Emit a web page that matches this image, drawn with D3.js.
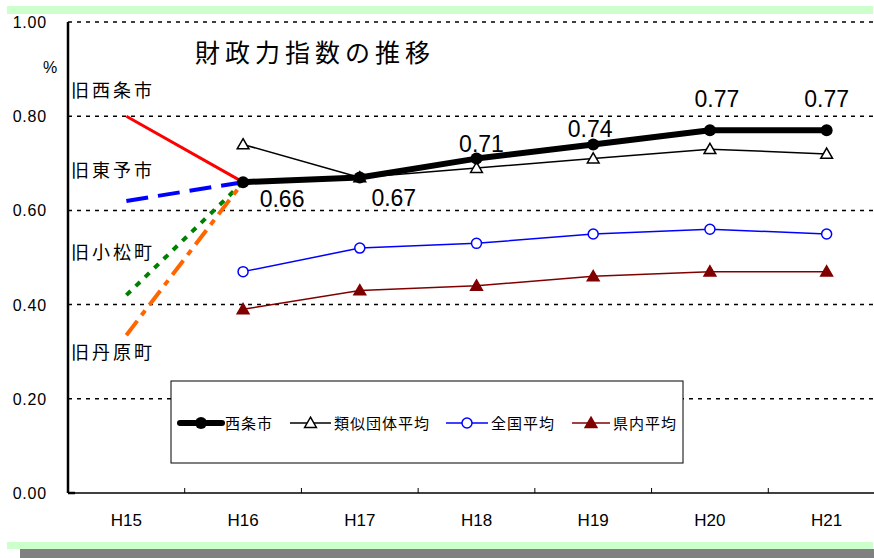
<!DOCTYPE html>
<html>
<head>
<meta charset="utf-8">
<script src="https://cdn.jsdelivr.net/npm/d3@7"></script>
<style>
  body { margin: 0; background: #fff; }
  svg text { font-family: "Liberation Sans", Arial, sans-serif; fill: #000; }
  .jp { font-family: "Noto Sans CJK JP", sans-serif; }
</style>
</head>
<body>
<div id="chart"></div>
<script>
// categories and values
var years = ["H15", "H16", "H17", "H18", "H19", "H20", "H21"];
var yTicks = [0, 0.2, 0.4, 0.6, 0.8, 1.0];

var saijo   = [null, 0.66, 0.67, 0.71, 0.74, 0.77, 0.77];
var ruiji   = [null, 0.74, 0.67, 0.69, 0.71, 0.73, 0.72];
var zenkoku = [null, 0.47, 0.52, 0.53, 0.55, 0.56, 0.55];
var kennai  = [null, 0.39, 0.43, 0.44, 0.46, 0.47, 0.47];

// old towns, H15 value joined to the merged city's H16 value
var oldNames  = ["旧西条市", "旧東予市", "旧小松町", "旧丹原町"];
var oldValues = [0.80, 0.62, 0.42, 0.335];

var svgWidth = 874, svgHeight = 558;
var margin = { top: 22, left: 68, bottom: 65 };
var plotRight = 885;

var svg = d3.select("#chart").append("svg")
    .attr("width", svgWidth)
    .attr("height", svgHeight);

// decorative bands
svg.append("rect").attr("x", 7).attr("y", 6).attr("width", 866).attr("height", 8).attr("fill", "#ccffcc");
svg.append("rect").attr("x", 7).attr("y", 542).attr("width", 866).attr("height", 7).attr("fill", "#ccffcc");
svg.append("rect").attr("x", 20).attr("y", 549).attr("width", 854).attr("height", 9).attr("fill", "#808080");

var x = d3.scaleBand().domain(years).range([margin.left, plotRight]);
var y = d3.scaleLinear().domain([0, 1]).range([svgHeight - margin.bottom, margin.top]);
var cx = d => x(d) + x.bandwidth() / 2;

// dotted gridlines
svg.append("g").selectAll("line")
    .data(yTicks.filter(d => d > 0))
    .enter().append("line")
    .attr("x1", margin.left).attr("x2", svgWidth)
    .attr("y1", d => y(d)).attr("y2", d => y(d))
    .attr("stroke", "#000").attr("stroke-width", 1.5)
    .attr("stroke-dasharray", "4,5");

// y tick labels
svg.append("g").selectAll("text")
    .data(yTicks)
    .enter().append("text")
    .attr("x", 47).attr("y", d => y(d) + 6)
    .attr("text-anchor", "end")
    .attr("font-size", 16).attr("letter-spacing", 0.8)
    .text(d => d.toFixed(2));

svg.append("text").attr("x", 50).attr("y", 73)
    .attr("text-anchor", "middle").attr("font-size", 16).text("%");

// x axis
var xAxis = d3.axisBottom(x).tickSize(0).tickPadding(0);
var gx = svg.append("g")
    .attr("transform", `translate(0, ${y(0)})`)
    .call(xAxis);
gx.select(".domain").remove();
gx.selectAll("text").attr("dy", null).attr("y", 33)
    .attr("font-size", 17).attr("font-family", "Liberation Sans, Arial, sans-serif").attr("fill", "#000");

svg.append("line").attr("x1", margin.left).attr("x2", svgWidth)
    .attr("y1", y(0)).attr("y2", y(0)).attr("stroke", "#000").attr("stroke-width", 1.5);
svg.append("g").selectAll("line")
    .data(years.slice(1))
    .enter().append("line")
    .attr("x1", d => x(d)).attr("x2", d => x(d))
    .attr("y1", y(0)).attr("y2", y(0) - 5)
    .attr("stroke", "#000").attr("stroke-width", 1);
svg.append("line").attr("x1", margin.left).attr("x2", margin.left)
    .attr("y1", y(1)).attr("y2", y(0)).attr("stroke", "#000").attr("stroke-width", 2.5);
svg.append("line").attr("x1", margin.left).attr("x2", margin.left + 7)
    .attr("y1", y(0)).attr("y2", y(0)).attr("stroke", "#000").attr("stroke-width", 2.5);

// title
svg.append("text").attr("class", "jp")
    .attr("x", 195).attr("y", 62)
    .attr("font-size", 25).attr("letter-spacing", 5)
    .text("財政力指数の推移");

// old town lines
var oldStyles = [
  { color: "#ff0000", width: 3, dash: null },
  { color: "#0000ff", width: 4, dash: "22,10" },
  { color: "#008000", width: 4, dash: "6,7" },
  { color: "#ff6600", width: 4, dash: "18,7,6,7" }
];
var labelY = [97, 177, 259, 359];
oldValues.forEach(function(v, i) {
  svg.append("line")
    .attr("x1", cx("H15")).attr("y1", y(v))
    .attr("x2", cx("H16")).attr("y2", y(saijo[1]))
    .attr("stroke", oldStyles[i].color)
    .attr("stroke-width", oldStyles[i].width)
    .attr("stroke-dasharray", oldStyles[i].dash);
  svg.append("text").attr("class", "jp")
    .attr("x", 71).attr("y", labelY[i])
    .attr("font-size", 18).attr("letter-spacing", 3)
    .text(oldNames[i]);
});

// series
var series = [
  { name: "西条市", values: saijo, color: "#000", width: 6, marker: "dot" },
  { name: "類似団体平均", values: ruiji, color: "#000", width: 1.5, marker: "tri-open" },
  { name: "全国平均", values: zenkoku, color: "#0000ff", width: 1.5, marker: "circle-open" },
  { name: "県内平均", values: kennai, color: "#800000", width: 1.5, marker: "tri" }
];
var drawOrder = [3, 2, 1, 0];

var line = d3.line()
    .defined(d => d[1] != null)
    .x(d => cx(d[0]))
    .y(d => y(d[1]));

function marker(g, s, px, py) {
  if (s.marker === "dot") {
    g.append("circle").attr("cx", px).attr("cy", py).attr("r", 6).attr("fill", s.color);
  } else if (s.marker === "circle-open") {
    g.append("circle").attr("cx", px).attr("cy", py).attr("r", 5)
      .attr("fill", "#fff").attr("stroke", s.color).attr("stroke-width", 1.5);
  } else {
    var sym = d3.symbol().type(d3.symbolTriangle).size(60);
    g.append("path").attr("d", sym()).attr("transform", `translate(${px},${py + 1})`)
      .attr("fill", s.marker === "tri" ? s.color : "#fff")
      .attr("stroke", s.color).attr("stroke-width", 1.5);
  }
}

drawOrder.forEach(function(i) {
  var s = series[i];
  var pts = years.map((yr, j) => [yr, s.values[j]]);
  var g = svg.append("g");
  g.append("path").datum(pts)
    .attr("d", line)
    .attr("fill", "none")
    .attr("stroke", s.color)
    .attr("stroke-width", s.width)
    .attr("stroke-linejoin", "round");
  pts.filter(d => d[1] != null).forEach(d => marker(g, s, cx(d[0]), y(d[1])));
});

// value labels for 西条市, nudged like the hand-placed ones in the source
var labelShift = [null, [39, 25], [34, 29], [5, -7], [-3, -7], [7, -23], [0, -23]];
svg.append("g").selectAll("text")
    .data(years.map((yr, j) => [yr, saijo[j], j]).filter(d => d[1] != null))
    .enter().append("text")
    .attr("x", d => cx(d[0]) + labelShift[d[2]][0])
    .attr("y", d => y(d[1]) + labelShift[d[2]][1])
    .attr("text-anchor", "middle")
    .attr("font-size", 23)
    .text(d => d[1].toFixed(2));

// legend
var legend = svg.append("g");
legend.append("rect").attr("x", 171).attr("y", 381).attr("width", 512).attr("height", 82)
    .attr("fill", "#fff").attr("stroke", "#000").attr("stroke-width", 1);
var legX = [180, 290, 446, 572];
var legW = [42, 41, 42, 38];
series.forEach(function(s, i) {
  var ly = 423;
  legend.append("line").attr("x1", legX[i]).attr("x2", legX[i] + legW[i])
    .attr("y1", ly).attr("y2", ly)
    .attr("stroke", s.color).attr("stroke-width", s.width).attr("stroke-linecap", i === 0 ? "round" : "butt");
  marker(legend, s, legX[i] + legW[i] / 2, ly);
  legend.append("text").attr("class", "jp")
    .attr("x", legX[i] + legW[i] + 3).attr("y", ly + 6)
    .attr("font-size", 15).attr("letter-spacing", 1)
    .text(s.name);
});
</script>
</body>
</html>
